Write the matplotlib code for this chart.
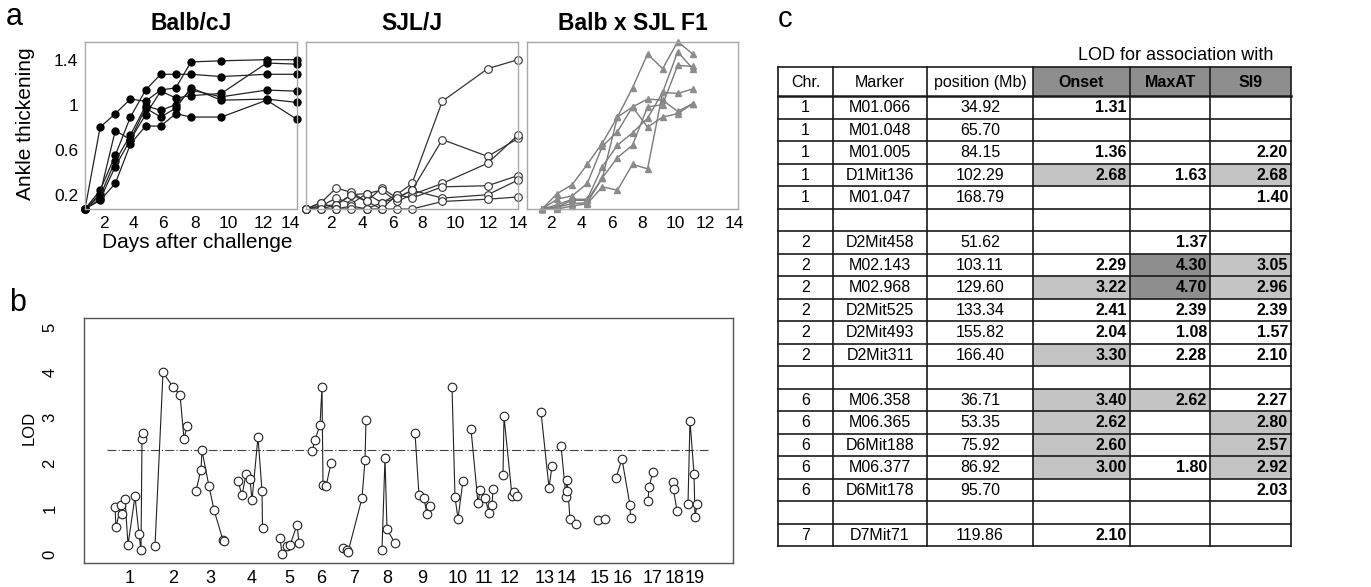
import matplotlib
matplotlib.use('Agg')
import matplotlib.pyplot as plt
from matplotlib.patches import Rectangle
import numpy as np

plt.rcParams['font.family'] = ['Liberation Sans', 'DejaVu Sans']

W, H = 1371, 587

# ---------------- Panel a data: ankle thickening ----------------
days = [0, 1, 2, 3, 4, 5, 6, 7, 9, 12, 14]
balb = [
    [0.073, 0.80, 0.92, 1.05, 1.03, 1.13, 1.15, 1.38, 1.39, 1.40, 1.40],
    [0.073, 0.24, 0.55, 0.89, 1.13, 1.27, 1.27, 1.27, 1.25, 1.27, 1.27],
    [0.073, 0.21, 0.77, 0.69, 0.91, 1.12, 1.06, 1.08, 1.10, 1.37, 1.36],
    [0.073, 0.19, 0.50, 0.73, 0.99, 0.95, 1.00, 1.13, 1.07, 1.13, 1.12],
    [0.073, 0.16, 0.45, 0.69, 0.97, 0.89, 0.97, 1.15, 1.04, 1.05, 1.02],
    [0.073, 0.15, 0.30, 0.65, 0.81, 0.81, 0.92, 0.89, 0.89, 1.04, 0.87],
]
sjl = [
    [0.073, 0.10, 0.11, 0.20, 0.21, 0.13, 0.20, 0.30, 1.03, 1.32, 1.40],
    [0.073, 0.13, 0.26, 0.22, 0.14, 0.26, 0.17, 0.24, 0.69, 0.54, 0.70],
    [0.073, 0.10, 0.17, 0.12, 0.21, 0.24, 0.14, 0.20, 0.30, 0.48, 0.73],
    [0.073, 0.073, 0.11, 0.20, 0.14, 0.073, 0.20, 0.17, 0.27, 0.28, 0.37],
    [0.073, 0.13, 0.073, 0.10, 0.073, 0.13, 0.17, 0.24, 0.17, 0.20, 0.33],
    [0.073, 0.073, 0.073, 0.073, 0.073, 0.073, 0.073, 0.073, 0.14, 0.16, 0.18],
]
f1_days = [1, 2, 3, 4, 5, 6, 7, 8, 9, 10, 11]
f1 = [
    [0.073, 0.21, 0.29, 0.47, 0.66, 0.89, 1.15, 1.45, 1.32, 1.56, 1.45],
    [0.073, 0.16, 0.19, 0.30, 0.63, 0.76, 0.98, 1.05, 1.04, 0.94, 1.01],
    [0.073, 0.11, 0.16, 0.16, 0.45, 0.64, 0.75, 0.88, 1.11, 1.47, 1.32],
    [0.073, 0.09, 0.12, 0.13, 0.35, 0.53, 0.64, 0.98, 1.00, 1.35, 1.34],
    [0.073, 0.073, 0.10, 0.12, 0.27, 0.24, 0.47, 0.43, 1.11, 1.10, 1.14],
    [0.073, 0.09, 0.15, 0.15, 0.35, 0.89, 0.98, 0.80, 0.89, 0.92, 1.01],
]
a_titles = ['Balb/cJ', 'SJL/J', 'Balb x SJL F1']
a_xticklabels = ['2', '4', '6', '8', '10', '12', '14']
a_yticks = [0.2, 0.6, 1.0, 1.4]
a_yticklabels = ['0.2', '0.6', '1', '1.4']

# ---------------- Panel b data: LOD scan ----------------
chrom_pos = {
    1: [31, 32, 37, 38, 41, 44, 51, 55, 57, 58, 59],
    2: [71, 79, 89, 96, 100, 103],
    3: [112, 117, 118, 125, 130, 139, 140],
    4: [154, 158, 162, 166, 168, 174, 178, 178.5],
    5: [196, 198, 203, 206, 213, 215],
    6: [228, 231, 236, 238, 239, 242, 247],
    7: [259, 263, 264, 278, 281, 282],
    8: [298, 301, 303, 311],
    9: [331, 335, 340, 343, 346],
    10: [368, 371, 374, 379],
    11: [387, 394, 396, 401, 405, 408, 409],
    12: [419, 420, 428, 430, 433],
    13: [457, 465, 468],
    14: [477, 482, 482.5, 483, 486, 492],
    15: [514, 521],
    16: [532, 538, 546, 546.5],
    17: [564, 565, 569],
    18: [589, 589.5, 593],
    19: [604, 606, 610, 611, 613],
}
chrom_lod = {
    1: [1.03, 0.59, 1.07, 0.89, 1.22, 0.20, 1.27, 0.43, 0.08, 2.53, 2.67],
    2: [0.17, 4.00, 3.68, 3.51, 2.54, 2.81],
    3: [1.39, 1.86, 2.28, 1.49, 0.97, 0.30, 0.29],
    4: [1.61, 1.29, 1.76, 1.65, 1.18, 2.58, 1.39, 0.58],
    5: [0.35, 0.00, 0.17, 0.19, 0.64, 0.24],
    6: [2.26, 2.52, 2.84, 3.68, 1.53, 1.49, 2.00],
    7: [0.13, 0.09, 0.04, 1.23, 2.06, 2.95],
    8: [0.09, 2.12, 0.54, 0.24],
    9: [2.67, 1.29, 1.23, 0.87, 1.05],
    10: [3.68, 1.25, 0.78, 1.61],
    11: [2.75, 1.12, 1.40, 1.23, 0.91, 1.07, 1.44],
    12: [1.73, 3.03, 1.28, 1.37, 1.28],
    13: [3.13, 1.46, 1.93],
    14: [2.38, 1.26, 1.38, 1.64, 0.78, 0.65],
    15: [0.74, 0.78],
    16: [1.68, 2.09, 1.07, 0.80],
    17: [1.17, 1.48, 1.81],
    18: [1.59, 1.42, 0.95],
    19: [1.11, 2.94, 1.76, 0.81, 1.09],
}
chrom_label_pos = [46, 89, 126, 168, 205, 237, 270, 303, 338, 374, 400, 426,
                   461, 483, 516, 539, 569, 591, 611]
chrom_labels = [str(i) for i in range(1, 20)]
lod_threshold = 2.28
threshold_span = [23, 626]

# ---------------- Panel c data: table ----------------
t_chr = ['1', '1', '1', '1', '1', '', '2', '2', '2', '2', '2', '2', '',
         '6', '6', '6', '6', '6', '', '7']
t_marker = ['M01.066', 'M01.048', 'M01.005', 'D1Mit136', 'M01.047', '',
            'D2Mit458', 'M02.143', 'M02.968', 'D2Mit525', 'D2Mit493', 'D2Mit311', '',
            'M06.358', 'M06.365', 'D6Mit188', 'M06.377', 'D6Mit178', '', 'D7Mit71']
t_pos = [34.92, 65.70, 84.15, 102.29, 168.79, None,
         51.62, 103.11, 129.60, 133.34, 155.82, 166.40, None,
         36.71, 53.35, 75.92, 86.92, 95.70, None, 119.86]
t_onset = [1.31, None, 1.36, 2.68, None, None, None, 2.29, 3.22, 2.41, 2.04, 3.30, None,
           3.40, 2.62, 2.60, 3.00, None, None, 2.10]
t_maxat = [None, None, None, 1.63, None, None, 1.37, 4.30, 4.70, 2.39, 1.08, 2.28, None,
           2.62, None, None, 1.80, None, None, None]
t_si9 = [None, None, 2.20, 2.68, 1.40, None, None, 3.05, 2.96, 2.39, 1.57, 2.10, None,
         2.27, 2.80, 2.57, 2.92, 2.03, None, None]
sh_onset = [0, 0, 0, 1, 0, 0, 0, 0, 1, 0, 0, 1, 0, 1, 1, 1, 1, 0, 0, 0]
sh_maxat = [0, 0, 0, 0, 0, 0, 0, 2, 2, 0, 0, 0, 0, 1, 0, 0, 0, 0, 0, 0]
sh_si9 = [0, 0, 0, 1, 0, 0, 0, 1, 1, 0, 0, 0, 0, 0, 1, 1, 1, 0, 0, 0]
t_headers = ['Chr.', 'Marker', 'position (Mb)', 'Onset', 'MaxAT', 'SI9']

# ---------------- Figure ----------------
fig = plt.figure(figsize=(W / 100, H / 100), dpi=100)


def rect(l, t, r, b):
    return [l / W, 1 - b / H, (r - l) / W, (b - t) / H]


a_boxes = [(85, 42, 297, 209), (306, 42, 518, 209), (527, 42, 738, 209)]
a_tickpos = [[1.25, 3.17, 5.15, 7.27, 9.45, 11.76, 13.54],
             [1.65, 3.70, 5.75, 7.66, 9.84, 12.02, 14.0],
             [1.59, 3.63, 5.61, 7.66, 9.84, 11.82, 13.74]]
for i, box in enumerate(a_boxes):
    ax = fig.add_axes(rect(*box))
    ax.set_xlim(0, 14)
    ax.set_ylim(0.073, 1.557)
    for s in ax.spines.values():
        s.set_color('#a8a8a8')
        s.set_linewidth(1.0)
    ax.tick_params(length=0, labelsize=12.5, pad=5)
    ax.set_xticks(a_tickpos[i])
    ax.set_xticklabels(a_xticklabels)
    if i == 0:
        ax.set_yticks(a_yticks)
        ax.set_yticklabels(a_yticklabels)
        for series in balb:
            ax.plot(days, series, '-o', color='#222222', lw=0.9, ms=5,
                    mfc='black', mec='black', clip_on=False)
    elif i == 1:
        ax.set_yticks([])
        for series in sjl:
            ax.plot(days, series, '-o', color='#333333', lw=0.9, ms=5.5,
                    mfc='white', mec='#333333', mew=0.8, clip_on=False)
    else:
        ax.set_yticks([])
        for series in f1:
            ax.plot(f1_days, series, '-^', color='#7a7a7a', lw=1.0, ms=4.5,
                    mfc='#8c8c8c', mec='#8c8c8c', clip_on=False)

# ---------------- Panel b ----------------
axb = fig.add_axes(rect(84, 318, 733, 563))
axb.set_xlim(0, 649)
axb.set_ylim(-0.2, 5.2)
for s in axb.spines.values():
    s.set_color('#555555')
    s.set_linewidth(1.0)
axb.plot(threshold_span, [lod_threshold, lod_threshold], color='#444444',
         lw=0.8, linestyle=(0, (8, 2, 1, 2)))
for c in range(1, 20):
    axb.plot(chrom_pos[c], chrom_lod[c], '-', color='#222222', lw=0.8, zorder=2)
    axb.plot(chrom_pos[c], chrom_lod[c], 'o', ms=6.2, mfc='white', mec='#222222',
             mew=0.8, zorder=3, linestyle='none')
axb.set_xticks(chrom_label_pos)
axb.set_xticklabels(chrom_labels)
axb.set_yticks([0, 1, 2, 3, 4, 5])
axb.set_yticklabels(['0', '1', '2', '3', '4', '5'], rotation=90, va='center')
axb.tick_params(axis='x', length=0, labelsize=13, pad=5)
axb.tick_params(axis='y', length=0, labelsize=12, pad=19)

# ---------------- Overlay (text and table) ----------------
ov = fig.add_axes([0, 0, 1, 1])
ov.set_xlim(0, W)
ov.set_ylim(H, 0)
ov.axis('off')

ov.text(14, 17, 'a', fontsize=22, ha='center', va='center')
ov.text(18, 303, 'b', fontsize=22, ha='center', va='center')
ov.text(785, 19, 'c', fontsize=21, ha='center', va='center')

for box, title in zip(a_boxes, a_titles):
    ov.text((box[0] + box[2]) / 2, 24, title, fontsize=16.5, fontweight='bold',
            ha='center', va='center')
ov.text(26, 124, 'Ankle thickening', fontsize=15, rotation=90, ha='center', va='center')
ov.text(197, 243, 'Days after challenge', fontsize=15, ha='center', va='center')
ov.text(29, 428, 'LOD', fontsize=12, rotation=90, ha='center', va='center')

# table
cols = [778, 833, 927, 1033, 1130, 1210, 1291]
top, hbot = 67, 96
nrows = len(t_marker)
rh = (546 - hbot) / nrows
shade_colors = {1: '#c4c4c4', 2: '#8e8e8e'}
header_fill = '#8e8e8e'

ov.text(1176, 55, 'LOD for association with', fontsize=13, ha='center', va='center')

for j in range(3, 6):
    ov.add_patch(Rectangle((cols[j], top), cols[j + 1] - cols[j], hbot - top,
                           facecolor=header_fill, edgecolor='none'))
for r in range(nrows):
    y0 = hbot + r * rh
    for j, sh in zip(range(3, 6), (sh_onset, sh_maxat, sh_si9)):
        if sh[r]:
            ov.add_patch(Rectangle((cols[j], y0), cols[j + 1] - cols[j], rh,
                                   facecolor=shade_colors[sh[r]], edgecolor='none'))

lc = '#1a1a1a'
for x in cols:
    ov.plot([x, x], [top, 546], color=lc, lw=1.2)
ov.plot([cols[0], cols[-1]], [top, top], color=lc, lw=1.2)
ov.plot([cols[0], cols[-1]], [hbot, hbot], color=lc, lw=1.8)
for r in range(1, nrows + 1):
    y = hbot + r * rh
    ov.plot([cols[0], cols[-1]], [y, y], color=lc, lw=1.2)

fs = 11.5
for j, h in enumerate(t_headers):
    cx = (cols[j] + cols[j + 1]) / 2
    ov.text(cx, (top + hbot) / 2 + 1, h, fontsize=fs,
            fontweight='bold' if j >= 3 else 'normal', ha='center', va='center')

for r in range(nrows):
    cy = hbot + (r + 0.5) * rh + 0.5
    ov.text((cols[0] + cols[1]) / 2, cy, t_chr[r], fontsize=fs, ha='center', va='center')
    ov.text((cols[1] + cols[2]) / 2, cy, t_marker[r], fontsize=fs, ha='center', va='center')
    if t_pos[r] is not None:
        ov.text((cols[2] + cols[3]) / 2, cy, f'{t_pos[r]:.2f}', fontsize=fs,
                ha='center', va='center')
    for j, vals in zip(range(3, 6), (t_onset, t_maxat, t_si9)):
        if vals[r] is not None:
            ov.text(cols[j + 1] - 3, cy, f'{vals[r]:.2f}', fontsize=fs,
                    fontweight='bold', ha='right', va='center')

fig.savefig('out.png', dpi=100)
